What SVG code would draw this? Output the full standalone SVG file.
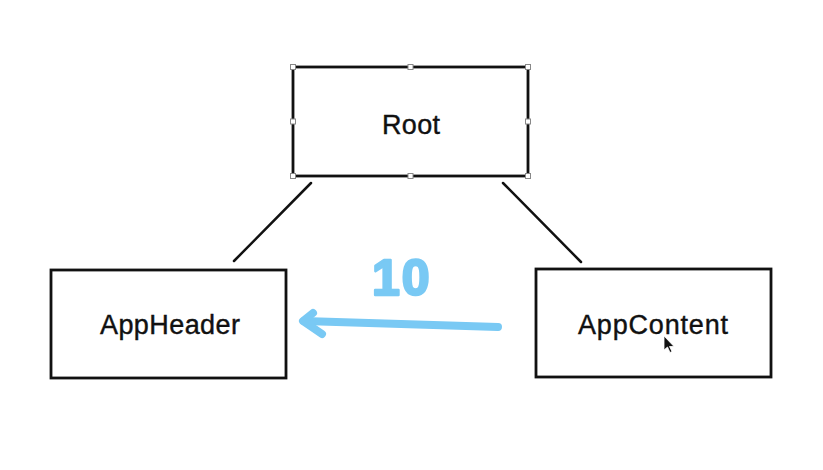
<svg xmlns="http://www.w3.org/2000/svg" width="823" height="470" viewBox="0 0 823 470">
  <style>
    .box { fill: #ffffff; stroke: #111111; stroke-width: 2.8; }
    .label { font-family: "Liberation Sans", Arial, sans-serif; font-size: 27px; fill: #111111; stroke: #111111; stroke-width: 0.4; text-anchor: middle; }
    .handle { fill: #ffffff; stroke: #888888; stroke-width: 1; }
    .edge { stroke: #111111; stroke-width: 2.5; fill: none; stroke-linecap: round; }
    .ink { stroke: #79c9f4; stroke-width: 8; fill: none; stroke-linecap: round; stroke-linejoin: round; }
  </style>
  <rect width="823" height="470" fill="#ffffff"/>
  <g id="connectors">
    <line class="edge" x1="311" y1="183" x2="234" y2="261"/>
    <line class="edge" x1="503" y1="183" x2="581" y2="262"/>
    <path class="ink" d="M498 327 L304 321"/>
    <path class="ink" d="M313 313 L303 321 L322 334"/>
    <text x="372" y="295" font-family="'Liberation Sans', Arial, sans-serif" font-size="50" font-weight="bold" letter-spacing="2" fill="#79c9f4" stroke="#79c9f4" stroke-width="2.5" stroke-linejoin="round">10</text>
  </g>
  <g id="root">
    <rect class="box" x="293" y="67" width="235" height="109"/>
    <text class="label" x="411" y="134" font-size="27" textLength="58">Root</text>
    <rect class="handle" x="290.5" y="64.5" width="5" height="5"/>
    <rect class="handle" x="408" y="64.5" width="5" height="5"/>
    <rect class="handle" x="525.5" y="64.5" width="5" height="5"/>
    <rect class="handle" x="290.5" y="119" width="5" height="5"/>
    <rect class="handle" x="525.5" y="119" width="5" height="5"/>
    <rect class="handle" x="290.5" y="173.5" width="5" height="5"/>
    <rect class="handle" x="408" y="173.5" width="5" height="5"/>
    <rect class="handle" x="525.5" y="173.5" width="5" height="5"/>
  </g>
  <g id="appheader">
    <rect class="box" x="51" y="270" width="235" height="108"/>
    <text class="label" x="170" y="334" font-size="26" textLength="140">AppHeader</text>
  </g>
  <g id="appcontent">
    <rect class="box" x="536" y="269" width="235" height="108"/>
    <text class="label" x="653" y="334" font-size="26" textLength="150">AppContent</text>
    <path d="M664 336 L664 350 L667.5 347 L670 352.5 L672 351.5 L669.5 346.5 L674 346.5 Z" fill="#111111" stroke="#ffffff" stroke-width="0.8"/>
  </g>
</svg>
